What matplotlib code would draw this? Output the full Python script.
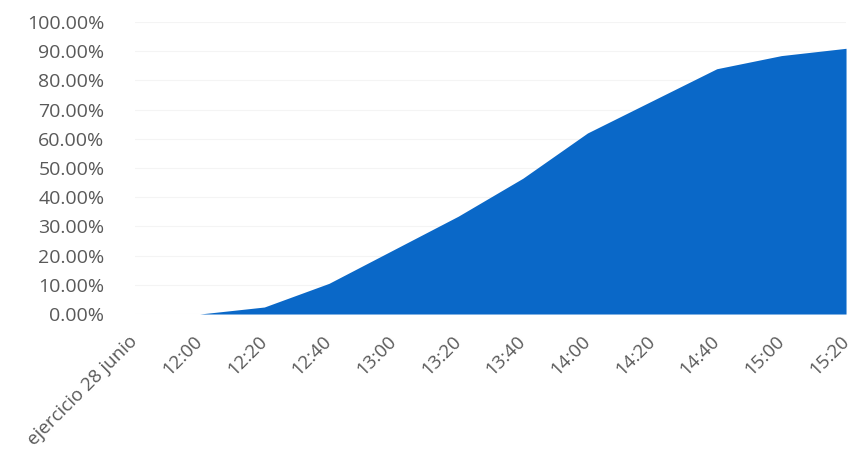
import numpy as np
import matplotlib
matplotlib.use("Agg")
import matplotlib.pyplot as plt
from matplotlib.ticker import PercentFormatter

# Cumulative share per time slot (fraction of 1)
categories = ["ejercicio 28 junio", "12:00", "12:20", "12:40", "13:00", "13:20",
              "13:40", "14:00", "14:20", "14:40", "15:00", "15:20"]
share = [np.nan, 0.0, 0.024, 0.105, 0.22, 0.335, 0.465, 0.62, 0.73, 0.84, 0.885, 0.91]

y_ticks = np.arange(0, 1.01, 0.1)

plt.rcParams["font.family"] = ["Open Sans", "DejaVu Sans"]

fig = plt.figure(figsize=(8.52, 4.53), dpi=100)
ax = fig.add_axes([0.1585, 0.3068, 0.8345, 0.6446])

x = np.arange(len(categories))
y = np.array(share, dtype=float)
ax.fill_between(x, 0, y, color="#0a68c8", linewidth=0, zorder=2)

ax.set_xlim(0, len(categories) - 1)
ax.set_ylim(0, 1)
ax.set_yticks(y_ticks)
ax.yaxis.set_major_formatter(PercentFormatter(xmax=1, decimals=2))
ax.grid(axis="y", color="#f4f4f4", linewidth=0.8, zorder=0)

ax.set_xticks(x)
ax.set_xticklabels(categories, rotation=45, ha="right", va="center",
                   rotation_mode="anchor")

for side in ax.spines.values():
    side.set_visible(False)
ax.tick_params(axis="both", length=0, colors="#595959")
ax.tick_params(axis="y", pad=22, labelsize=14)
ax.tick_params(axis="x", pad=18, labelsize=13.5)

fig.savefig("out.png", dpi=100, facecolor="white")
